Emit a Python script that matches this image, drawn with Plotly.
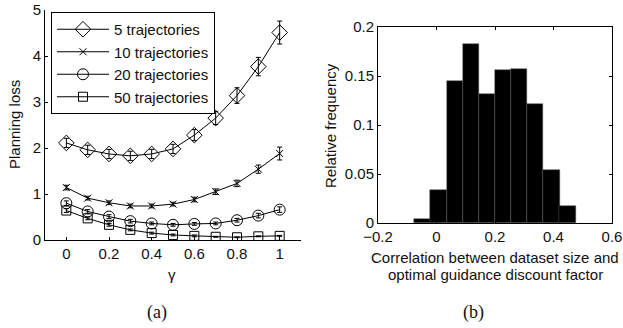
import plotly.graph_objects as go

gamma = [0, 0.1, 0.2, 0.3, 0.4, 0.5, 0.6, 0.7, 0.8, 0.9, 1.0]
loss_5 = [2.11, 1.96, 1.87, 1.83, 1.87, 1.98, 2.28, 2.65, 3.14, 3.77, 4.51]
err_5 = [0.1, 0.1, 0.1, 0.1, 0.1, 0.1, 0.12, 0.14, 0.17, 0.2, 0.25]
loss_10 = [1.14, 0.91, 0.81, 0.74, 0.74, 0.78, 0.88, 1.05, 1.23, 1.54, 1.88]
err_10 = [0.05, 0.04, 0.04, 0.04, 0.04, 0.04, 0.05, 0.06, 0.07, 0.09, 0.14]
loss_20 = [0.80, 0.62, 0.51, 0.41, 0.36, 0.33, 0.35, 0.36, 0.43, 0.53, 0.66]
err_20 = [0.05, 0.04, 0.04, 0.04, 0.03, 0.03, 0.03, 0.03, 0.04, 0.05, 0.06]
loss_50 = [0.64, 0.47, 0.33, 0.22, 0.15, 0.11, 0.09, 0.07, 0.06, 0.08, 0.09]
err_50 = [0.04, 0.03, 0.03, 0.02, 0.02, 0.02, 0.02, 0.01, 0.01, 0.01, 0.01]

bin_centers = [-0.048, 0.007, 0.062, 0.117, 0.172, 0.228, 0.283, 0.338, 0.393, 0.448]
bin_width = 0.0552
rel_freq = [0.004, 0.034, 0.145, 0.183, 0.132, 0.156, 0.157, 0.121, 0.054, 0.017]

series = [
    ("5 trajectories", loss_5, err_5, "diamond-open", 12),
    ("10 trajectories", loss_10, err_10, "x-thin-open", 7),
    ("20 trajectories", loss_20, err_20, "circle-open", 11),
    ("50 trajectories", loss_50, err_50, "square-open", 9),
]

FONT = "Liberation Sans, Arial, sans-serif"
SERIF = "Liberation Serif, Times New Roman, serif"
fig = go.Figure()
for name, y, e, sym, sz in series:
    fig.add_trace(go.Scatter(
        x=gamma, y=y, name=name, mode="lines+markers",
        line=dict(color="black", width=1),
        marker=dict(symbol=sym, size=sz, color="black", line=dict(color="black", width=1)),
        error_y=dict(type="data", array=e, visible=True, color="black", thickness=1, width=2.5),
        xaxis="x", yaxis="y",
    ))

fig.add_trace(go.Bar(
    x=bin_centers, y=rel_freq, width=bin_width,
    marker=dict(color="black", line=dict(color="#555", width=0.5)),
    showlegend=False, xaxis="x2", yaxis="y2",
))

axis_common = dict(
    showgrid=False, zeroline=False, linecolor="black", linewidth=1,
    ticks="inside", ticklen=3, tickcolor="black", automargin=False,
    tickfont=dict(family=FONT, size=15, color="#111"),
)

fig.update_layout(
    width=623, height=328,
    margin=dict(l=0, r=0, t=0, b=0),
    plot_bgcolor="white", paper_bgcolor="white",
    font=dict(family=FONT, size=15, color="black"),
    xaxis=dict(domain=[45/623, 301/623], range=[-0.1, 1.1], anchor="y",
               tickvals=[0, 0.2, 0.4, 0.6, 0.8, 1], ticktext=["0", "0.2", "0.4", "0.6", "0.8", "1"],
               showline=True, **axis_common),
    yaxis=dict(domain=[1-240/328, 1-10/328], range=[0, 5], anchor="x",
               tickvals=[0, 1, 2, 3, 4, 5],
               showline=True, **axis_common),
    xaxis2=dict(domain=[378/623, 612/623], range=[-0.2, 0.6], anchor="y2",
                tickvals=[-0.2, 0, 0.2, 0.4, 0.6], ticktext=["−0.2", "0", "0.2", "0.4", "0.6"],
                showline=True, mirror="ticks", **axis_common),
    yaxis2=dict(domain=[1-223/328, 1-27/328], range=[0, 0.2], anchor="x2",
                tickvals=[0, 0.05, 0.1, 0.15, 0.2], ticktext=["0", "0.05", "0.1", "0.15", "0.2"],
                showline=True, mirror="ticks", **axis_common),
    legend=dict(x=51/623, y=1-12/328, xanchor="left", yanchor="top",
                bgcolor="white", bordercolor="black", borderwidth=1,
                font=dict(family=FONT, size=15, color="#111"),
                itemwidth=52, tracegroupgap=0),
    bargap=0,
    showlegend=True,
)

def label(text, x, y, size=15, family=FONT, angle=0):
    fig.add_annotation(text=text, x=x/623, y=1-y/328, xref="paper", yref="paper",
                       xanchor="center", yanchor="middle",
                       showarrow=False, textangle=angle,
                       font=dict(family=family, size=size, color="#111"))

label("Planning loss", 14, 125, angle=-90)
label("γ", 172, 274)
label("Relative frequency", 330, 125, angle=-90)
label("Correlation between dataset size and", 495, 257)
label("optimal guidance discount factor", 495, 274)
label("(a)", 157, 312, size=18, family=SERIF)
label("(b)", 473, 312, size=18, family=SERIF)

fig.write_html("out.html", config={"displayModeBar": False},
               post_script="document.body.style.margin='0';document.body.style.overflow='hidden';")
